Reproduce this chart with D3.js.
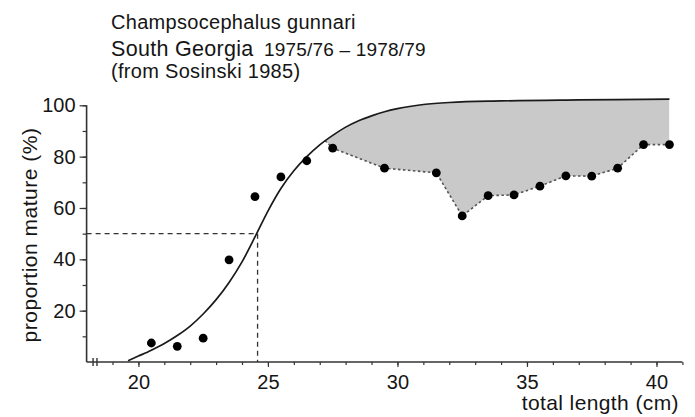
<!DOCTYPE html>
<html>
<head>
<meta charset="utf-8">
<script src="https://cdn.jsdelivr.net/npm/d3@7/dist/d3.min.js"></script>
<style>
  html, body { margin: 0; padding: 0; background: #fff; }
  svg { display: block; font-family: "Liberation Sans", Arial, Helvetica, sans-serif; }
</style>
</head>
<body>
<svg id="chart" width="695" height="417"></svg>
<script>
// Observed proportion mature by length class (cm)
const obsLength = [20.5, 21.5, 22.5, 23.5, 24.5, 25.5, 26.5, 27.5, 29.5, 31.5,
                   32.5, 33.5, 34.5, 35.5, 36.5, 37.5, 38.5, 39.5, 40.5];
const obsMature = [7.4, 6.1, 9.3, 39.8, 64.4, 72.1, 78.4, 83.3, 75.5, 73.7,
                   56.9, 64.8, 65.1, 68.5, 72.5, 72.4, 75.5, 84.7, 84.7];

// Fitted maturity ogive
const fitLength = [19.6, 20.0, 20.5, 21.0, 21.5, 22.0, 22.5, 23.0, 23.5, 24.0,
                   24.5, 25.0, 25.5, 26.0, 26.5, 27.0, 27.5, 28.0, 28.5, 29.0,
                   29.5, 30.0, 31.0, 32.0, 34.0, 37.0, 40.5];
const fitMature = [0.5, 2.3, 4.6, 7.2, 10.3, 14.0, 18.7, 24.3, 31.0, 39.0,
                   48.7, 58.8, 67.6, 74.5, 80.0, 84.6, 88.3, 91.5, 94.0, 95.9,
                   97.5, 98.7, 100.3, 101.1, 101.7, 102.1, 102.4];

// Dotted line bounding the shortfall of mature fish in larger classes
const gapLength = [27.2, 27.5, 29.5, 31.5, 32.5, 33.5, 34.5, 35.5, 36.5, 37.5, 38.5, 39.5, 40.5];
const gapMature = [86.3, 83.3, 75.5, 73.7, 56.9, 64.8, 65.1, 68.5, 72.5, 72.4, 75.5, 84.7, 84.7];

// Length at 50% maturity
const l50 = 24.6;
const p50 = 50;

const xMajor = [20, 25, 30, 35, 40];
const xMinor = d3.range(19, 42, 1);
const yMajor = [20, 40, 60, 80, 100];
const yMinor = d3.range(10, 101, 10);

const titleLines = ["Champsocephalus gunnari", "South Georgia", "(from Sosinski 1985)"];
const seasons = "1975/76 \u2013 1978/79";
const xTitle = "total length (cm)";
const yTitle = "proportion mature (%)";

const svg = d3.select("#chart");
const ink = "#151515";

const x = d3.scaleLinear().domain([18, 41]).range([86.6, 682.4]);
const y = d3.scaleLinear().domain([0, 100]).range([362, 105.3]);

const fit = fitLength.map((l, i) => [l, fitMature[i]]);
const obs = obsLength.map((l, i) => [l, obsMature[i]]);
const gap = gapLength.map((l, i) => [l, gapMature[i]]);

// Shaded band: region above the dotted line, clipped to the area under the ogive
const defs = svg.append("defs");
defs.append("clipPath").attr("id", "under-curve")
  .append("path")
  .attr("d", d3.area().x(d => x(d[0])).y0(y(0)).y1(d => y(d[1])).curve(d3.curveMonotoneX)(fit));

const bandTop = 115;
svg.append("path")
  .attr("clip-path", "url(#under-curve)")
  .attr("d", d3.area().x(d => x(d[0])).y0(d => y(d[1])).y1(y(bandTop))(gap))
  .attr("fill", "#c9c9c9");

// Axes
const xAxisMinor = d3.axisBottom(x).tickValues(xMinor).tickSize(3).tickFormat("");
const xAxisMajor = d3.axisBottom(x).tickValues(xMajor).tickSize(5).tickPadding(8);
const yAxisMinor = d3.axisLeft(y).tickValues(yMinor).tickSize(4).tickFormat("");
const yAxisMajor = d3.axisLeft(y).tickValues(yMajor).tickSize(7).tickPadding(4);

function styleAxis(g) {
  g.select(".domain").remove();
  g.selectAll(".tick line").attr("stroke", "#333").attr("stroke-width", 1.2);
  g.selectAll(".tick text").attr("fill", ink).attr("font-size", 20)
    .attr("font-family", "Liberation Sans, Arial, sans-serif");
}

svg.append("g").attr("transform", `translate(0,${y(0)})`).call(xAxisMinor).call(styleAxis);
const gx = svg.append("g").attr("transform", `translate(0,${y(0)})`).call(xAxisMajor).call(styleAxis);
gx.selectAll(".tick text").attr("dy", "0.71em");
svg.append("g").attr("transform", `translate(${x(18)},0)`).call(yAxisMinor).call(styleAxis);
svg.append("g").attr("transform", `translate(${x(18)},0)`).call(yAxisMajor).call(styleAxis);

// Axis lines
svg.append("line")
  .attr("x1", x(18)).attr("x2", x(41)).attr("y1", y(0)).attr("y2", y(0))
  .attr("stroke", "#333").attr("stroke-width", 1.6);
svg.append("line")
  .attr("x1", x(18)).attr("x2", x(18)).attr("y1", y(0)).attr("y2", y(100))
  .attr("stroke", "#333").attr("stroke-width", 1.6);

// Axis break marks
[18.25, 18.4].forEach(v => {
  svg.append("line")
    .attr("x1", x(v)).attr("x2", x(v)).attr("y1", y(0) - 4).attr("y2", y(0) + 4)
    .attr("stroke", "#333").attr("stroke-width", 1.4);
});

// 50% maturity reference lines
svg.append("path")
  .attr("d", d3.line().x(d => x(d[0])).y(d => y(d[1]))([[18, p50], [l50, p50], [l50, 0]]))
  .attr("fill", "none").attr("stroke", "#333").attr("stroke-width", 1.3)
  .attr("stroke-dasharray", "5,4");

// Dotted boundary
svg.append("path")
  .attr("d", d3.line().x(d => x(d[0])).y(d => y(d[1]))(gap))
  .attr("fill", "none").attr("stroke", "#555").attr("stroke-width", 1.6)
  .attr("stroke-dasharray", "2.5,2.5");

// Ogive
svg.append("path")
  .attr("d", d3.line().x(d => x(d[0])).y(d => y(d[1])).curve(d3.curveMonotoneX)(fit))
  .attr("fill", "none").attr("stroke", "#1a1a1a").attr("stroke-width", 1.7);

// Observations
svg.append("g").selectAll("circle").data(obs).join("circle")
  .attr("cx", d => x(d[0])).attr("cy", d => y(d[1])).attr("r", 4.4)
  .attr("fill", "#000");

// Axis titles
svg.append("text")
  .attr("x", 679).attr("y", 410).attr("text-anchor", "end")
  .attr("font-size", 21).attr("letter-spacing", 0.4).attr("fill", ink)
  .text(xTitle);
svg.append("text")
  .attr("transform", "translate(37,235) rotate(-90)").attr("text-anchor", "middle")
  .attr("font-size", 21).attr("letter-spacing", 0.5).attr("fill", ink)
  .text(yTitle);

// Title block
svg.append("text").attr("x", 111).attr("y", 29).attr("font-size", 20)
  .attr("letter-spacing", 0.3).attr("fill", ink).text(titleLines[0]);
const t2 = svg.append("text").attr("x", 111).attr("y", 56).attr("fill", ink);
t2.append("tspan").attr("font-size", 21.5).attr("letter-spacing", 0.3).text(titleLines[1]);
t2.append("tspan").attr("x", 264).attr("font-size", 19).attr("letter-spacing", 0.2).text(seasons);
svg.append("text").attr("x", 111).attr("y", 78).attr("font-size", 20)
  .attr("letter-spacing", 0.3).attr("fill", ink).text(titleLines[2]);
</script>
</body>
</html>
